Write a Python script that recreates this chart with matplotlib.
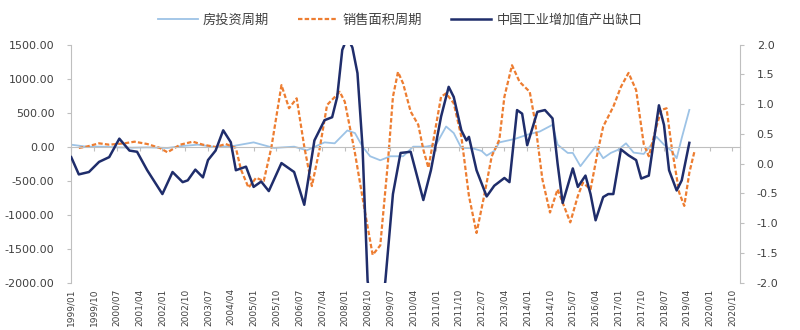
import matplotlib
matplotlib.use('Agg')
from matplotlib import pyplot as plt
import numpy as np

plt.rcParams['font.family'] = ['Noto Sans CJK SC', 'DejaVu Sans']
plt.rcParams['axes.unicode_minus'] = False

# x = months since 1999/01
tick_labels = ['1999/01', '1999/10', '2000/07', '2001/04', '2002/01', '2002/10',
               '2003/07', '2004/04', '2005/01', '2005/10', '2006/07', '2007/04',
               '2008/01', '2008/10', '2009/07', '2010/04', '2011/01', '2011/10',
               '2012/07', '2013/04', '2014/01', '2014/10', '2015/07', '2016/04',
               '2017/01', '2017/10', '2018/07', '2019/04', '2020/01', '2020/10']

# 房投资周期 (left axis)
inv_m = [0, 6, 12, 18, 24, 30, 38, 44, 50, 57, 64, 72, 80, 88, 93, 100, 104, 109,
         112, 115, 118, 122, 126, 131, 135, 140, 144, 148, 151, 154, 158, 162, 164,
         167, 169, 175, 180, 185, 190, 192, 196, 198, 201, 204, 207, 210, 213, 216,
         219, 222, 226, 229, 231, 234, 237, 239, 241, 244]
inv_v = [29, 0, 0, -10, -15, -10, -19, 10, 29, -5, 10, 63, -19, 0, -54, 63, 49, 238,
         200, 0, -141, -200, -141, -141, 0, 0, 29, 296, 200, -19, -19, -63, -131,
         -63, 63, 112, 175, 223, 321, 29, -92, -92, -287, -141, 0, -170, -92, -44,
         49, -87, -107, 29, 146, 29, -63, -170, 127, 540]

# 销售面积周期 (left axis)
sale_m = [3, 6, 11, 15, 21, 25, 30, 35, 38, 43, 48, 52, 57, 61, 65, 67, 70, 73, 76,
          79, 83, 86, 89, 92, 95, 98, 101, 106, 108, 112, 116, 119, 122, 125, 127,
          129, 131, 134, 137, 139, 141, 143, 146, 148, 151, 154, 157, 160, 163, 166,
          169, 171, 174, 177, 181, 183, 186, 189, 192, 194, 197, 200, 202, 205, 208,
          210, 214, 217, 220, 223, 226, 228, 231, 233, 235, 237, 240, 242, 244, 246]
sale_v = [-19, 0, 49, 29, 49, 73, 39, -19, -83, 29, 73, 29, -5, 39, -19, -335, -602,
          -457, -505, -15, 904, 564, 710, 0, -579, -44, 612, 806, 660, -92, -967,
          -1590, -1450, -238, 733, 1098, 929, 515, 321, -44, -311, 102, 733, 783, 637,
          150, -724, -1268, -724, -141, 102, 733, 1196, 952, 806, 394, -481, -967,
          -627, -821, -1112, -724, -529, -627, -44, 296, 588, 879, 1083, 831, 39,
          -141, 296, 540, 564, 0, -675, -870, -383, -73]

# 中国工业增加值产出缺口 (right axis)
gap_m = [0, 3, 7, 11, 15, 19, 23, 26, 30, 36, 40, 44, 46, 49, 52, 54, 57, 60, 63,
         65, 69, 72, 75, 78, 83, 88, 92, 96, 100, 103, 105, 107, 109, 111, 113, 115,
         117, 120, 123, 124, 127, 130, 134, 139, 142, 146, 149, 151, 154, 156, 157,
         160, 164, 167, 171, 173, 176, 178, 180, 184, 187, 190, 192, 194, 198, 200,
         203, 205, 207, 210, 212, 214, 217, 220, 223, 225, 228, 230, 232, 234, 236,
         239, 241, 244]
gap_v = [0.11, -0.18, -0.14, 0.03, 0.11, 0.42, 0.22, 0.20, -0.11, -0.51, -0.14,
         -0.31, -0.28, -0.10, -0.23, 0.06, 0.22, 0.56, 0.36, -0.11, -0.05, -0.39,
         -0.30, -0.46, 0.01, -0.14, -0.69, 0.39, 0.73, 0.78, 1.12, 1.91, 2.12, 1.95,
         1.52, 0.28, -1.97, -2.7, -2.3, -1.97, -0.51, 0.18, 0.20, -0.61, -0.11, 0.79,
         1.29, 1.12, 0.56, 0.39, 0.45, -0.11, -0.55, -0.37, -0.24, -0.31, 0.90, 0.84,
         0.31, 0.87, 0.90, 0.76, 0.00, -0.66, -0.08, -0.39, -0.20, -0.51, -0.95,
         -0.56, -0.51, -0.51, 0.24, 0.14, 0.06, -0.25, -0.20, 0.39, 0.98, 0.65,
         -0.11, -0.45, -0.28, 0.35]

grey = '#bfbfbf'
txt = '#404040'

fig = plt.figure(figsize=(8, 3.3), dpi=100)
ax = fig.add_axes([0.089, 0.143, 0.836, 0.722])
ax2 = ax.twinx()

l1, = ax.plot(inv_m, inv_v, color='#9dc3e6', lw=1.3, label='房投资周期')
l2, = ax.plot(sale_m, sale_v, color='#ed7d31', lw=1.6, ls=(0, (2, 1)), label='销售面积周期')
l3, = ax2.plot(gap_m, gap_v, color='#1f2d6b', lw=1.8, label='中国工业增加值产出缺口')

ax.set_ylim(-2000, 1500)
ax.set_yticks(np.arange(-2000, 1501, 500))
ax.set_yticklabels(['%.2f' % t for t in np.arange(-2000, 1501, 500)])
ax2.set_ylim(-2.0, 2.0)
ax2.set_yticks(np.arange(-2.0, 2.01, 0.5))
ax2.set_yticklabels(['%.1f' % t for t in np.arange(-2.0, 2.01, 0.5)])
ax.set_xlim(0, 264)

tick_pos = np.arange(len(tick_labels)) * 9
ax.spines['bottom'].set_position(('data', 0))
ax.spines['bottom'].set_color(grey)
ax.set_xticks(tick_pos)
ax.tick_params(axis='x', labelbottom=False, length=3, color=grey)
sec = ax.secondary_xaxis('bottom')
sec.set_xticks(tick_pos)
sec.set_xticklabels(tick_labels, rotation=90, fontsize=6.5,
                    family=['Liberation Sans Narrow', 'DejaVu Sans'], color=txt)
sec.tick_params(length=0, pad=4)
sec.spines['bottom'].set_visible(False)

for a in (ax, ax2):
    a.spines['top'].set_visible(False)
ax.spines['right'].set_visible(False)
ax2.spines['left'].set_visible(False)
ax2.spines['bottom'].set_visible(False)
ax.spines['left'].set_color(grey)
ax2.spines['right'].set_color(grey)
ax.tick_params(axis='y', length=3, color=grey, labelsize=8, labelcolor=txt, pad=9)
ax2.tick_params(axis='y', length=3, color=grey, labelsize=8, labelcolor=txt, pad=9)
for lab in ax.get_yticklabels() + ax2.get_yticklabels():
    lab.set_family('DejaVu Sans')

fig.legend(handles=[l1, l2, l3], loc='upper center', bbox_to_anchor=(0.5, 0.995),
           ncol=3, frameon=False, fontsize=9.5, handlelength=3.0,
           columnspacing=2.2, handletextpad=0.4, labelcolor=txt)

fig.savefig('out.png', dpi=100)
